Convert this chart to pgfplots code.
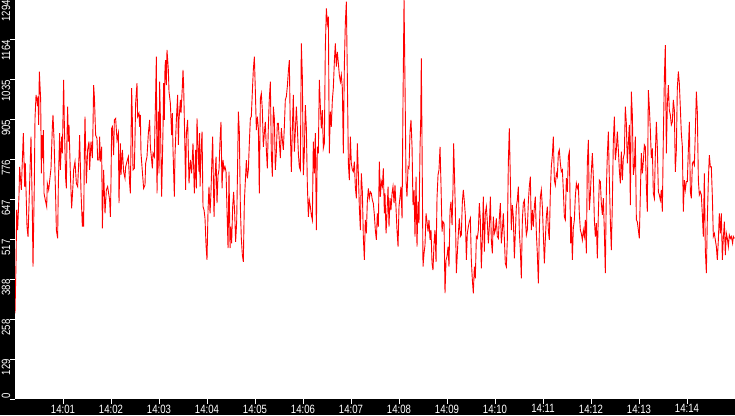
\documentclass[border=0pt]{standalone}
\usepackage{fontspec}
\setmainfont{Liberation Sans}
\usepackage{pgfplots}
\pgfplotsset{compat=1.18}
\newcommand\tl[1]{\scalebox{0.8}[1]{#1}}
\begin{document}
\begin{tikzpicture}
\fill[black] (-15pt,-16pt) rectangle (720pt,399pt);
\fill[white] (0pt,0pt) rectangle (720pt,399pt);
\begin{axis}[
  at={(0pt,0pt)}, anchor=south west,
  scale only axis, width=720pt, height=399pt,
  xmin=0, xmax=900, ymin=0, ymax=1294,
  axis line style={draw=none},
  tick align=outside, tick pos=left,
  major tick length=5pt,
  tick style={white, line width=1pt},
  xtick={60,120,...,840},
  xticklabels={\tl{14:01},\tl{14:02},\tl{14:03},\tl{14:04},\tl{14:05},\tl{14:06},\tl{14:07},
    \tl{14:08},\tl{14:09},\tl{14:10},\tl{14:11},\tl{14:12},\tl{14:13},\tl{14:14}},
  ytick={0,129.4,258.8,388.2,517.6,647,776.4,905.8,1035.2,1164.6,1294},
  yticklabels={\tl{0}\hspace*{-7pt},\tl{129},\tl{258},\tl{388},\tl{517},\tl{647},\tl{776},\tl{905},
    \tl{1035},\tl{1164},\tl{1294}},
  ticklabel style={white, font=\fontsize{12}{12}\selectfont, inner sep=0pt},
  yticklabel style={rotate=90, anchor=east},
  xticklabel style={anchor=north},
  xticklabel shift=0.5pt, yticklabel shift=4pt,
]
\addplot[red, line width=0.9pt, no markers] coordinates {
(0,278) (1.3,445) (2.1,613) (3.3,548) (5,662) (5.8,753) (7.9,678) (10.4,862) (12.1,689) (12.9,764)
(15,559) (16.3,526) (18.8,743) (20,851) (21.7,602) (22.5,429) (24.2,705) (25,910) (26.3,986) (27.9,959)
(28.8,981) (29.6,889) (30.4,1062) (32.1,970) (32.9,732) (33.8,856) (34.6,781) (35.4,872) (36.3,667) (37.9,645)
(39.6,624) (40.4,699) (42.1,678) (45,748) (46.7,883) (47.5,921) (48.8,840) (50.8,656) (51.7,548) (53.3,521)
(54.2,699) (55.8,862) (56.7,743) (58.3,851) (59.2,797) (60.8,1035) (61.7,889) (63.3,716) (64.2,683) (65,851)
(65.8,948) (66.7,835) (67.5,889) (69.2,732) (70.8,618) (72.5,694) (73.3,743) (75,770) (76.7,699) (78.3,689)
(80,786) (80.8,856) (82.5,672) (84.2,559) (85,608) (85.8,559) (86.7,797) (87.5,916) (89.2,699) (90.8,808)
(92.5,835) (93.3,743) (95,835) (96.7,781) (97.5,883) (98.3,1018) (99.2,981) (100.8,856) (102.5,845) (103.3,775)
(105,775) (105.8,851) (106.7,770) (108.3,818) (109.2,553) (110.8,743) (112.5,602) (114.2,678) (115.8,689) (118.3,645)
(119.2,591) (120,705) (120.8,878) (121.7,883) (123.3,791) (124.2,905) (125.8,910) (127.5,840) (129.2,862) (130,635)
(130.8,732) (131.7,829) (132.5,727) (134.2,808) (135.8,737) (137.5,716) (138.3,753) (140,770) (141.7,786) (143.3,699)
(144.2,667) (145,835) (145.8,1008) (146.7,905) (147.5,743) (149.2,748) (150,845) (150.8,959) (152.5,1024) (153.3,916)
(155,927) (155.8,883) (156.7,921) (157.5,797) (160,710) (160.8,683) (162.5,694) (163.3,764) (165,786) (166.7,862)
(168.3,905) (169.2,818) (170.8,775) (171.7,748) (172.5,797) (174.2,786) (175,894) (175.8,986) (176.7,1110) (177.5,667)
(179.2,932) (180,732) (180.8,1029) (181.7,916) (183.3,656) (185,872) (185.8,1024) (186.7,905) (187.5,1078) (188.3,1099)
(189.2,1018) (190,1132) (191.7,1067) (192.5,997) (194.2,959) (195.8,856) (196.7,927) (197.5,808) (199.2,656) (200,791)
(201.7,905) (203.3,986) (204.2,824) (205,905) (206.7,970) (207.5,927) (209.2,1013) (210,1067) (210.8,1018) (212.5,797)
(213.3,678) (214.2,862) (215.8,905) (217.5,699) (219.2,775) (220.8,732) (222.5,829) (224.2,667) (225.8,808) (226.7,683)
(227.5,910) (229.2,786) (230,737) (230.8,862)
(231.3,689) (232.5,797) (233.8,867) (235,624) (236.3,613) (237.5,586) (238.8,499) (240,451) (241.3,613) (242.5,689)
(243.8,602) (245,672) (246.3,791) (247.1,851) (247.9,721) (248.8,591) (250,721) (251.3,786) (252.5,635) (253.8,726)
(255,743) (256.3,840) (257.5,899) (258.8,683) (260,775) (261.3,743) (262.5,753) (263.8,737) (265,613) (266.3,489)
(267.5,737) (268.8,489) (269.6,559) (270.8,505) (272.1,624) (273.3,672) (274.6,602) (275.8,510) (277.1,575) (278.3,764)
(279.2,932) (280.4,867) (281.7,624) (282.9,521) (284.2,467) (285.4,445) (286.7,640) (287.9,705) (289.2,775) (290.4,716)
(291.7,743) (292.9,829) (294.2,910) (295.4,916) (296.7,997) (297.9,1067) (299.2,1110) (300.4,1002) (301.7,872) (302.9,916)
(304.2,878) (305.4,667) (306.7,975) (307.9,991) (309.2,937) (310.4,818) (311.7,862) (312.9,899) (314.2,808) (315.4,748)
(316.7,883) (317.9,975) (319.2,1029) (320.4,797) (321.7,721) (322.9,948) (324.2,910) (325.4,743) (326.7,802) (327.9,894)
(329.2,894) (330.4,835) (331.7,781) (332.9,878) (334.2,840) (335.4,808) (336.7,883) (337.9,970) (339.2,981) (340.4,1013)
(341.7,1062) (342.9,1099) (344.2,867) (345.4,737) (346.7,878) (347.9,986) (349.2,802) (350.4,867) (351.7,948) (352.9,883)
(354.2,797) (355.4,753) (356.7,743) (357.9,1153) (359.2,1045) (360.4,726) (361.7,802) (362.9,953) (364.2,878) (365.4,699)
(366.7,591) (367.9,645) (369.2,624) (370.4,597) (371.7,581) (372.9,835) (374.2,732) (375.4,862) (376.7,548) (377.9,818)
(379.2,797) (380.4,1035) (381.7,948) (382.9,878) (384.2,937) (385.4,813) (386.7,829) (387.9,1137) (389.2,1267) (390.4,1218)
(391.7,1240) (392.9,797) (394.2,932) (395.4,883) (396.7,970) (397.9,1008) (399.2,1094) (400.4,1153) (401.7,1078) (402.9,1126)
(404.2,1089) (405.4,1051) (406.7,1029) (407.9,1051) (409.2,1008) (410.4,797) (411.7,1083) (412.9,1218) (414.2,1289) (415.4,1051)
(416.7,764) (417.9,710) (419.2,851) (420.4,764) (421.7,743) (422.9,737) (424.2,770) (425.4,689) (426.7,651) (427.9,829)
(429.2,732) (430.4,624) (431.7,548) (432.9,732) (434.2,672) (435.4,527) (436.7,451) (437.9,581) (439.2,537) (440.4,640)
(441.7,683) (442.9,651) (444.2,672) (445.4,667) (446.7,645) (447.9,635) (449.2,597) (450.4,548) (451.7,516) (452.9,602)
(454.2,559) (455.4,770) (456.7,656) (457.9,705) (459.2,689) (460.4,748) (461.7,602)
(462.5,667) (463.8,537) (465,602) (466.3,689) (467.5,559) (468.8,651) (470,613) (471.3,667) (472.5,689) (473.8,635)
(475,694) (476.3,618) (477.5,548) (478.8,494) (480,624) (481.3,656) (482.5,689) (483.8,586) (485,964) (486.3,1294)
(487.5,1024) (488.8,705) (490,656) (491.3,753) (492.5,748) (493.8,867) (495,905) (496.3,818) (497.5,629) (498.8,678)
(500,527) (501.3,721) (502.5,494) (503.8,640) (505,570) (506.3,818) (507.1,899) (507.9,1105) (508.8,824) (510,429)
(511.3,472) (512.5,499) (513.8,602) (515,575) (516.3,543) (517.5,581) (518.8,516) (520,548) (521.3,440) (522.5,418)
(523.8,505) (525,548) (526.3,445) (527.5,651) (528.8,727) (530,743) (531.3,818) (532.5,694) (533.8,543) (535,575)
(536.3,570) (537.5,343) (538.8,451) (540,462) (541.3,494) (542.5,429) (543.8,613) (545,640) (546.3,564) (547.5,683)
(548.3,829) (549.2,743) (550.4,618) (551.7,408) (552.9,472) (554.2,537) (555.4,586) (556.7,527) (557.9,532) (559.2,640)
(560.4,678) (561.7,640) (562.9,597) (564.2,451) (565.4,537) (566.7,559) (567.9,575) (569.2,586) (570.4,451) (571.7,386)
(572.9,343) (574.2,429) (575.4,391) (576.7,527) (577.9,521) (579.2,548) (580.4,635) (581.7,581) (582.9,424) (584.2,521)
(585.4,656) (586.7,478) (587.9,602) (589.2,624) (590.4,575) (591.7,505) (592.9,559) (594.2,656) (595.4,516) (596.7,472)
(597.9,591) (599.2,537) (600.4,548) (601.7,586) (602.9,527) (604.2,521) (605.4,586) (606.7,635) (607.9,505) (609.2,548)
(610.4,602) (611.7,521) (612.9,440) (614.2,429) (615.4,516) (616.7,770) (617.9,878) (619.2,710) (620.4,548) (621.7,629)
(622.9,591) (624.2,456) (625.4,537) (626.7,624) (627.9,645) (629.2,689) (630.4,543) (631.7,483) (632.9,391) (634.2,581)
(635.4,635) (636.7,645) (637.9,586) (639.2,532) (640.4,548) (641.7,640) (642.9,689) (644.2,721) (645.4,548) (646.7,613)
(647.9,559) (649.2,624) (650.4,656) (651.7,537) (652.9,472) (654.2,375) (655.4,543) (656.7,656) (657.9,678) (659.2,624)
(660.4,537) (661.7,440) (662.9,516) (664.2,591) (665.4,624) (666.7,548) (667.9,516) (669.2,672) (670.4,753) (671.7,791)
(672.9,851) (674.2,710) (675.4,694) (676.7,732) (677.9,721) (679.2,797) (680.4,808) (681.7,764) (682.9,737) (684.2,743)
(685.4,678) (686.7,591) (687.9,581) (689.2,716) (690.4,672) (691.7,786) (692.9,802)
(693.8,651) (694.6,505) (695.4,591) (696.7,451) (697.9,554) (699.2,581) (700.4,656) (701.7,699) (702.9,683) (704.2,694)
(705.4,602) (706.7,548) (707.9,537) (709.2,516) (710.4,548) (711.7,527) (712.9,581) (714.2,472) (715.4,764) (716.7,840)
(717.9,613) (719.2,662) (720.4,737) (721.7,797) (722.9,721) (724.2,581) (725.4,527) (726.7,570) (727.9,456) (729.2,602)
(730.4,710) (731.7,705) (732.9,635) (734.2,597) (735.4,651) (736.7,543) (737.9,408) (739.2,678) (740.4,791) (741.7,867)
(742.9,716) (744.2,575) (745.4,483) (746.7,635) (747.9,835) (749.2,916) (750.4,775) (751.7,808) (752.9,867) (754.2,808)
(755.4,743) (756.7,699) (757.9,802) (759.2,710) (760.4,781) (761.7,797) (762.9,948) (764.2,894) (765.4,764) (766.7,829)
(767.9,889) (769.2,629) (770.4,997) (771.7,921) (772.9,727) (774.2,753) (775.4,851) (776.7,581) (777.9,575) (779.2,548)
(780.4,521) (781.7,667) (782.9,797) (784.2,732) (785.4,770) (786.7,824) (787.9,818) (789.2,689) (790.4,608) (791.7,1002)
(792.9,948) (794.2,872) (795.4,781) (796.7,813) (797.9,667) (799.2,651) (800.4,791) (801.7,899) (802.9,818) (804.2,672)
(805.4,662) (806.7,645) (807.9,678) (809.2,608) (810.4,845) (811.7,1040) (812.9,1148) (814.2,797) (815.4,953) (816.7,1018)
(817.9,937) (819.2,921) (820.4,889) (821.7,899) (822.9,970) (824.2,937) (825.4,737) (826.7,808) (827.9,1008) (829.2,1062)
(830.4,1024) (831.7,943) (832.9,862) (834.2,818) (835.4,608) (836.7,710) (837.9,678) (839.2,705) (840.4,705) (841.7,808)
(842.9,899) (844.2,672) (845.4,651) (846.7,764) (847.9,770) (849.2,759) (850.4,862) (851.7,997) (852.9,932) (854.2,710)
(855.4,662) (856.7,672) (857.9,662) (859.2,597) (860.4,527) (861.7,732) (862.9,483) (864.2,408) (865.4,581) (866.7,710)
(867.9,791) (869.2,753) (870.4,753) (871.7,656) (872.9,527) (874.2,537) (875.4,516) (876.7,494) (877.9,451) (879.2,516)
(880.4,602) (881.7,537) (882.9,602) (884.2,451) (885.4,521) (886.7,575) (887.9,467) (889.2,537) (890.4,521) (891.7,494)
(892.9,532) (894.2,521) (895.4,527) (897,505) (897.9,527) (899.2,521)
};
\end{axis}
\pgfresetboundingbox
\useasboundingbox (-15pt,-16pt) rectangle (720pt,399pt);
\end{tikzpicture}
\end{document}
